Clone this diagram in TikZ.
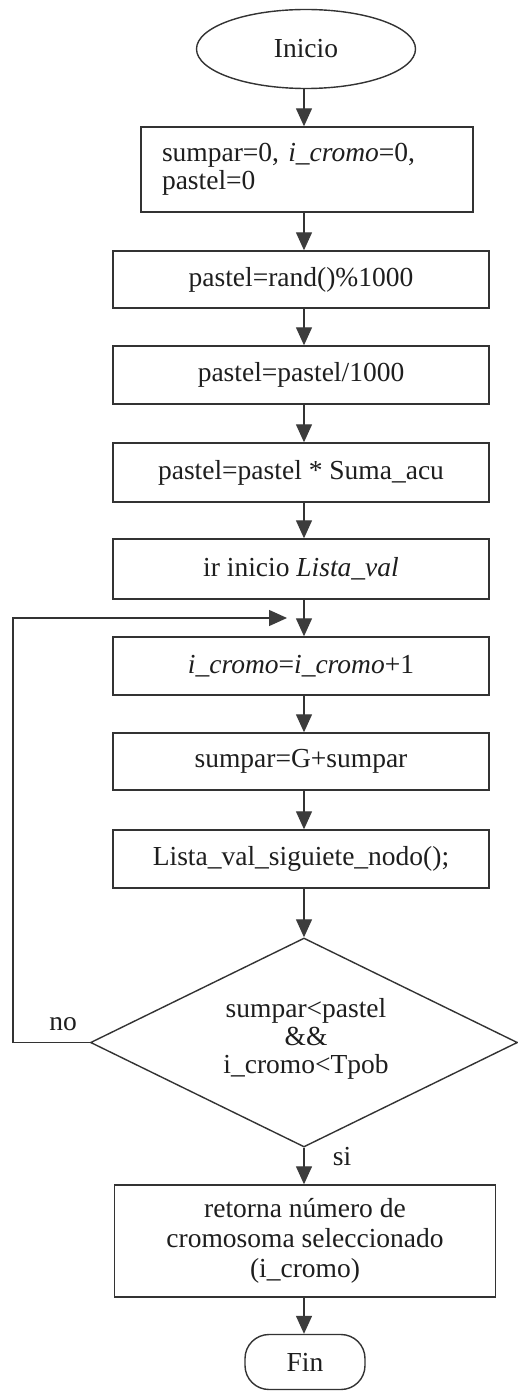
\documentclass[tikz,border=0pt]{standalone}
\usepackage{fontspec}
\setmainfont{Liberation Serif}
\usetikzlibrary{shapes.geometric,arrows.meta}
\definecolor{linec}{HTML}{333333}
\definecolor{headc}{HTML}{3C3C3C}
\definecolor{textc}{HTML}{1E1E1E}
\begin{document}
\begin{tikzpicture}[x=1pt,y=-1pt,
  txt/.style={font=\fontsize{27.5}{30}\selectfont, text=textc},
  stepbox/.style={txt, draw=linec, line width=1.4pt, rectangle, inner sep=0pt,
    minimum width=376pt},
  arr/.style={draw=linec, line width=1.3pt,
    -{Triangle[width=16pt,length=18pt,color=headc]}},
  plain/.style={draw=linec, line width=1.3pt}]
\useasboundingbox[fill=white] (0,0) rectangle (518,1391);

% terminals
\node[txt, draw=linec, line width=1.4pt, ellipse, inner sep=0pt,
  minimum width=219pt, minimum height=79pt] (start) at (306,49) {Inicio};
\node[txt, draw=linec, line width=1.4pt, rectangle, rounded corners=24pt,
  inner sep=0pt, minimum width=120pt, minimum height=55pt] (fin) at (305,1362) {Fin};

% process steps
\node[stepbox, minimum width=332pt, minimum height=85pt, text width=290pt,
  align=left, inner xsep=21pt, font=\fontsize{27.5}{28}\selectfont] (b1) at (307,169.5)
  {sumpar=0, \textit{i\_cromo}=0,\\pastel=0};
\node[stepbox, minimum height=57pt] (b2) at (301,279.5) {pastel=rand()\%1000};
\node[stepbox, minimum height=58pt] (b3) at (301,375) {pastel=pastel/1000};
\node[stepbox, minimum height=59pt] (b4) at (301,472.5) {pastel=pastel * Suma\_acu};
\node[stepbox, minimum height=60pt] (b5) at (301,569) {ir inicio \textit{Lista\_val}};
\node[stepbox, minimum height=58pt] (b6) at (301,666) {\textit{i\_cromo}=\textit{i\_cromo}+1};
\node[stepbox, minimum height=57pt] (b7) at (301,761.5) {sumpar=G+sumpar};
\node[stepbox, minimum height=58pt] (b8) at (301,859) {Lista\_val\_siguiete\_nodo();};

% loop condition
\node[draw=linec, line width=1.4pt, diamond, inner sep=0pt, aspect=2.04,
  minimum width=427pt, minimum height=209pt] (dia) at (304,1042.5) {};
\node[txt, align=center, font=\fontsize{27.5}{28}\selectfont] (cond) at (306,1039)
  {sumpar<pastel\\\&\&\\i\_cromo<Tpob};

% result
\node[stepbox, minimum width=381pt, minimum height=112pt, align=center] (b9)
  at (305,1241) {retorna número de\\cromosoma seleccionado\\(i\_cromo)};

% branch labels
\node[txt] (lno) at (63,1024) {no};
\node[txt] (lsi) at (342,1157) {si};

% main flow (all connectors run down the common axis x = 304)
\coordinate (axis) at (304,0);
\draw[arr] (start.south -| axis) -- (b1.north -| axis);
\draw[arr] (b1.south -| axis) -- (b2.north -| axis);
\draw[arr] (b2.south -| axis) -- (b3.north -| axis);
\draw[arr] (b3.south -| axis) -- (b4.north -| axis);
\draw[arr] (b4.south -| axis) -- (b5.north -| axis);
\draw[arr] (b5.south -| axis) -- (b6.north -| axis);
\draw[arr] (b6.south -| axis) -- (b7.north -| axis);
\draw[arr] (b7.south -| axis) -- (b8.north -| axis);
\draw[arr] (b8.south -| axis) -- (dia.north);
\draw[arr] (dia.south) -- (b9.north -| axis);
\draw[arr] (b9.south -| axis) -- (fin.north -| axis);

% return path of the loop
\coordinate (loopbot) at (13,1042.5);
\coordinate (looptop) at (13,618);
\coordinate (merge) at (287,618);
\draw[arr] (dia.west) -- (loopbot) -- (looptop) -- (merge);
\end{tikzpicture}
\end{document}
